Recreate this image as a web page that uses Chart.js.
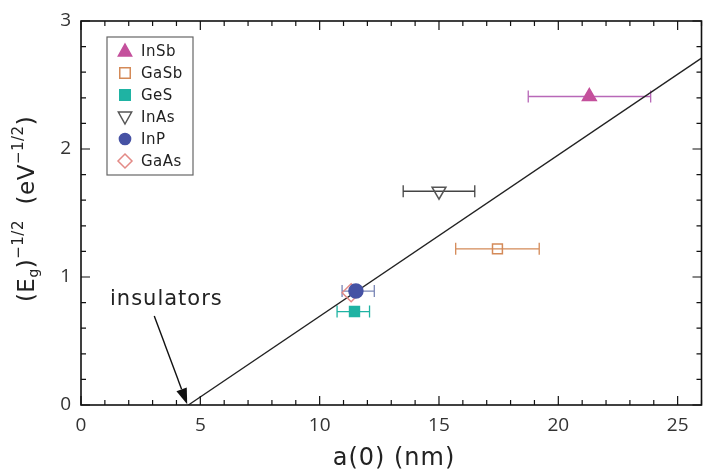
<!DOCTYPE html>
<html>
<head>
<meta charset="utf-8">
<script src="https://cdn.jsdelivr.net/npm/chart.js@4.4.1/dist/chart.umd.min.js"></script>
<style>
  html, body { margin: 0; padding: 0; background: #fff; overflow: hidden; }
  #wrap { width: 712px; height: 474px; }
</style>
</head>
<body>
<div id="wrap"><canvas id="grafico" width="712" height="474"></canvas></div>
<script>
// Dados
const materiais = ['InSb', 'GaSb', 'GeS', 'InAs', 'InP', 'GaAs'];
const a0 = [21.3, 17.45, 11.46, 15.0, 11.52, 11.32];
const gapInv = [2.41, 1.22, 0.73, 1.67, 0.89, 0.877];
const a0Min = [18.74, 15.7, 10.73, 13.5, 10.94, null];
const a0Max = [23.87, 19.2, 12.09, 16.5, 12.29, null];

// reta de ajuste
const retaX = [4.5, 26];
const retaY = [0, 2.71];

// ticks
const xTicks = [0, 5, 10, 15, 20, 25];
const yTicks = [0, 1, 2, 3];

// estilos de cada serie
const estilos = [
    { ponto: 'triangle', cor: '#c4509c', fundo: '#c4509c', barra: '#b868b8', raio: 8, rot: 0 },
    { ponto: 'rect', cor: '#d48a58', fundo: 'rgba(0,0,0,0)', barra: '#d48a58', raio: 7, rot: 0 },
    { ponto: 'rect', cor: '#1fb3a3', fundo: '#1fb3a3', barra: '#1fb3a3', raio: 7, rot: 0 },
    { ponto: 'triangle', cor: '#555555', fundo: 'rgba(0,0,0,0)', barra: '#444444', raio: 8, rot: 180 },
    { ponto: 'circle', cor: '#4652a4', fundo: '#4652a4', barra: '#7a86b6', raio: 7, rot: 0 },
    { ponto: 'rectRot', cor: '#e38a86', fundo: 'rgba(0,0,0,0)', barra: '#e38a86', raio: 9, rot: 0 }
];

const FONTE = "'Open Sans', 'DejaVu Sans', sans-serif";
const FONTE_LARGA = "'DejaVu Sans', sans-serif";

function monta_datasets() {
    var ds = [];
    ds.push({
        type: 'line',
        label: 'ajuste',
        data: retaX.map((x, i) => ({ x: x, y: retaY[i] })),
        borderColor: '#222',
        borderWidth: 1.3,
        pointRadius: 0,
        fill: false,
        order: 10
    });
    for (let i = 0; i < materiais.length; i++) {
        let e = estilos[i];
        ds.push({
            type: 'scatter',
            label: materiais[i],
            data: [{ x: a0[i], y: gapInv[i] }],
            pointStyle: e.ponto,
            pointRadius: e.raio,
            pointRotation: e.rot,
            borderColor: e.cor,
            backgroundColor: e.fundo,
            borderWidth: 1.5,
            errMin: a0Min[i],
            errMax: a0Max[i],
            errCor: e.barra,
            order: 0
        });
    }
    return ds;
}

// desenha marcador simples (para a legenda)
function desenha_marcador(ctx, e, x, y, r) {
    ctx.save();
    ctx.strokeStyle = e.cor;
    ctx.fillStyle = e.fundo;
    ctx.lineWidth = 1.5;
    ctx.beginPath();
    if (e.ponto === 'triangle') {
        let s = e.rot ? -1 : 1;
        ctx.moveTo(x, y - s * r);
        ctx.lineTo(x + r * 0.95, y + s * r * 0.7);
        ctx.lineTo(x - r * 0.95, y + s * r * 0.7);
        ctx.closePath();
    } else if (e.ponto === 'rect') {
        ctx.rect(x - r * 0.75, y - r * 0.75, r * 1.5, r * 1.5);
    } else if (e.ponto === 'circle') {
        ctx.arc(x, y, r * 0.8, 0, Math.PI * 2);
    } else if (e.ponto === 'rectRot') {
        ctx.moveTo(x, y - r);
        ctx.lineTo(x + r, y);
        ctx.lineTo(x, y + r);
        ctx.lineTo(x - r, y);
        ctx.closePath();
    }
    ctx.fill();
    ctx.stroke();
    ctx.restore();
}

const barrasErro = {
    id: 'barrasErro',
    beforeDatasetsDraw(chart) {
        const ctx = chart.ctx;
        const xs = chart.scales.x, ys = chart.scales.y;
        chart.data.datasets.forEach(function (d) {
            if (d.errMin == null) return;
            let p = d.data[0];
            let y = ys.getPixelForValue(p.y);
            let x1 = xs.getPixelForValue(d.errMin);
            let x2 = xs.getPixelForValue(d.errMax);
            ctx.save();
            ctx.strokeStyle = d.errCor;
            ctx.lineWidth = 1.3;
            ctx.beginPath();
            ctx.moveTo(x1, y); ctx.lineTo(x2, y);
            ctx.moveTo(x1, y - 6); ctx.lineTo(x1, y + 6);
            ctx.moveTo(x2, y - 6); ctx.lineTo(x2, y + 6);
            ctx.stroke();
            ctx.restore();
        });
    }
};

function texto_rico(ctx, partes, x, y, esp) {
    // mede e desenha centralizado em (x, y)
    ctx.letterSpacing = (esp || 0) + 'px';
    let total = 0;
    partes.forEach(function (p) {
        ctx.font = p.tam + 'px ' + FONTE_LARGA;
        p.w = ctx.measureText(p.t).width;
        total += p.w;
    });
    let cx = x - total / 2;
    partes.forEach(function (p) {
        ctx.font = p.tam + 'px ' + FONTE_LARGA;
        ctx.fillText(p.t, cx, y + (p.dy || 0));
        cx += p.w;
    });
    ctx.letterSpacing = '0px';
}

const moldura = {
    id: 'moldura',
    afterDraw(chart) {
        const ctx = chart.ctx;
        const a = chart.chartArea;
        const xs = chart.scales.x, ys = chart.scales.y;
        ctx.save();
        ctx.strokeStyle = '#111';
        ctx.lineWidth = 1.6;
        ctx.strokeRect(a.left, a.top, a.right - a.left, a.bottom - a.top);

        // ticks para dentro, nos quatro lados
        ctx.lineWidth = 1.2;
        ctx.beginPath();
        for (let v = 0; v <= 26; v++) {
            let px = xs.getPixelForValue(v);
            let L = (v % 5 === 0) ? 9 : 5;
            ctx.moveTo(px, a.bottom); ctx.lineTo(px, a.bottom - L);
            ctx.moveTo(px, a.top); ctx.lineTo(px, a.top + L);
        }
        for (let k = 0; k <= 15; k++) {
            let py = ys.getPixelForValue(k * 0.2);
            let L = (k % 5 === 0) ? 9 : 5;
            ctx.moveTo(a.left, py); ctx.lineTo(a.left + L, py);
            ctx.moveTo(a.right, py); ctx.lineTo(a.right - L, py);
        }
        ctx.stroke();

        // legenda
        ctx.fillStyle = '#fff';
        ctx.strokeStyle = '#666';
        ctx.lineWidth = 1.2;
        ctx.fillRect(107, 37, 86, 138);
        ctx.strokeRect(107, 37, 86, 138);
        ctx.font = '15px ' + FONTE_LARGA;
        ctx.letterSpacing = '0.5px';
        ctx.textBaseline = 'middle';
        for (let i = 0; i < materiais.length; i++) {
            let ly = 51 + i * 22;
            desenha_marcador(ctx, estilos[i], 125, ly, 7);
            ctx.fillStyle = '#222';
            ctx.fillText(materiais[i], 141, ly + 1);
        }

        // anotacao "insulators" com seta
        ctx.font = '21px ' + FONTE_LARGA;
        ctx.letterSpacing = '1px';
        ctx.fillStyle = '#222';
        ctx.textBaseline = 'alphabetic';
        ctx.fillText('insulators', 110, 305);
        ctx.letterSpacing = '0px';
        let x0 = xs.getPixelForValue(3.07), y0 = ys.getPixelForValue(0.695);
        let x1 = xs.getPixelForValue(4.45), y1 = ys.getPixelForValue(0.005);
        let ang = Math.atan2(y1 - y0, x1 - x0);
        let hl = 16, hw = 5.5;
        let bx = x1 - hl * Math.cos(ang), by = y1 - hl * Math.sin(ang);
        ctx.strokeStyle = '#111';
        ctx.lineWidth = 1.4;
        ctx.beginPath();
        ctx.moveTo(x0, y0); ctx.lineTo(bx, by);
        ctx.stroke();
        ctx.fillStyle = '#111';
        ctx.beginPath();
        ctx.moveTo(x1, y1);
        ctx.lineTo(bx + hw * Math.sin(ang), by - hw * Math.cos(ang));
        ctx.lineTo(bx - hw * Math.sin(ang), by + hw * Math.cos(ang));
        ctx.closePath();
        ctx.fill();

        // titulos dos eixos
        ctx.fillStyle = '#222';
        ctx.textBaseline = 'middle';
        texto_rico(ctx, [{ t: 'a(0) (nm)', tam: 24 }], 394, 459, 1);

        ctx.translate(28, 209);
        ctx.rotate(-Math.PI / 2);
        texto_rico(ctx, [
            { t: '(E', tam: 23 },
            { t: 'g', tam: 14, dy: 6 },
            { t: ')', tam: 23 },
            { t: '\u22121/2', tam: 15, dy: -9 },
            { t: '  (eV', tam: 23 },
            { t: '\u22121/2', tam: 15, dy: -9 },
            { t: ')', tam: 23 }
        ], 0, 0, 0.5);
        ctx.restore();
    }
};

function renderiza_grafico() {
    const ctx = document.getElementById('grafico').getContext('2d');
    const grafico = new Chart(ctx, {
        data: { datasets: monta_datasets() },
        options: {
            responsive: false,
            animation: false,
            layout: { padding: { top: 21, right: 3, left: 0, bottom: 0 } },
            plugins: {
                legend: { display: false },
                tooltip: { enabled: false }
            },
            scales: {
                x: {
                    type: 'linear',
                    min: 0,
                    max: 26,
                    afterBuildTicks: function (s) { s.ticks = xTicks.map(v => ({ value: v })); },
                    afterFit: function (s) { s.height = 69; },
                    grid: { display: false },
                    border: { display: false },
                    ticks: { padding: 1, color: '#333', font: { size: 19, family: FONTE } }
                },
                y: {
                    type: 'linear',
                    min: 0,
                    max: 3,
                    afterBuildTicks: function (s) { s.ticks = yTicks.map(v => ({ value: v })); },
                    afterFit: function (s) { s.width = 81; },
                    grid: { display: false },
                    border: { display: false },
                    ticks: { padding: 2, color: '#333', font: { size: 19, family: FONTE } }
                }
            }
        },
        plugins: [barrasErro, moldura]
    });
}

renderiza_grafico();
</script>
</body>
</html>
